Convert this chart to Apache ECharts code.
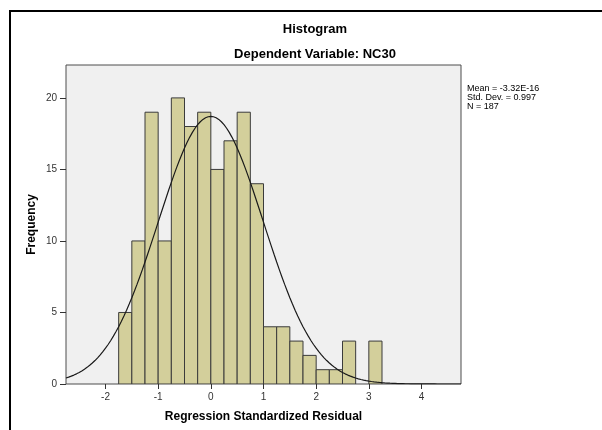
<!DOCTYPE html>
<html>
<head>
<meta charset="utf-8">
<script src="https://cdn.jsdelivr.net/npm/echarts@6/dist/echarts.min.js"></script>
<style>
  html, body { margin: 0; padding: 0; background: #ffffff; }
  #chart { width: 602px; height: 430px; }
</style>
</head>
<body>
<div id="chart"></div>
<script>
// Residual histogram: bin lower edges (width 0.25) and frequencies
const binWidth = 0.25;
const binStarts = [-1.75, -1.5, -1.25, -1.0, -0.75, -0.5, -0.25, 0.0, 0.25, 0.5,
                   0.75, 1.0, 1.25, 1.5, 1.75, 2.0, 2.25, 2.5, 2.75, 3.0];
const counts    = [5, 10, 19, 10, 20, 18, 19, 15, 17, 19,
                   14, 4, 4, 3, 2, 1, 1, 3, 0, 3];

// Summary statistics shown beside the plot
const statMean = -3.32e-16;
const statSd = 0.997;
const statN = 187;
const statLines = ['Mean = -3.32E-16', 'Std. Dev. = 0.997', 'N = 187'];

// Axis ticks
const xTicks = [-2, -1, 0, 1, 2, 3, 4];
const yTicks = [0, 5, 10, 15, 20];

// Normal curve scaled to the histogram (N * bin width * density)
const curve = [];
for (let i = 0; i <= 150; i++) {
  const x = -2.75 + i * 0.05;
  const z = (x - statMean) / statSd;
  const y = statN * binWidth * Math.exp(-0.5 * z * z) / (statSd * Math.sqrt(2 * Math.PI));
  curve.push([x, y]);
}

const bars = binStarts.map((s, i) => [s, s + binWidth, counts[i]]);

const font = '"Liberation Sans", Arial, sans-serif';
const chart = echarts.init(document.getElementById('chart'), null, { renderer: 'canvas' });

chart.setOption({
  animation: false,
  backgroundColor: '#ffffff',
  title: [
    { text: 'Histogram', left: 310, textAlign: 'center', top: 18,
      textStyle: { fontFamily: font, fontSize: 13, fontWeight: 'bold', color: '#000' } },
    { text: 'Dependent Variable: NC30', left: 310, textAlign: 'center', top: 43,
      textStyle: { fontFamily: font, fontSize: 13, fontWeight: 'bold', color: '#000' } }
  ],
  grid: {
    left: 66, top: 65, width: 395, height: 319,
    show: true, backgroundColor: '#f0f0f0', borderColor: '#4d4d4d', borderWidth: 1
  },
  xAxis: {
    type: 'value', min: -2.75, max: 4.75,
    name: 'Regression Standardized Residual', nameLocation: 'middle', nameGap: 27,
    nameTextStyle: { fontFamily: font, fontSize: 12, fontWeight: 'bold', color: '#000' },
    axisLine: { show: false, onZero: false },
    splitLine: { show: false },
    axisTick: { show: true, length: 5, customValues: xTicks, lineStyle: { color: '#333', width: 1 } },
    axisLabel: { customValues: xTicks, margin: 8, fontFamily: font, fontSize: 10, color: '#333' }
  },
  yAxis: {
    type: 'value', min: 0, max: 22.3,
    name: 'Frequency', nameLocation: 'middle', nameGap: 28, nameRotate: 90,
    nameMoveOverlap: false,
    nameTextStyle: { fontFamily: font, fontSize: 12, fontWeight: 'bold', color: '#000' },
    axisLine: { show: false, onZero: false },
    splitLine: { show: false },
    axisTick: { show: true, length: 6, customValues: yTicks, lineStyle: { color: '#333', width: 1 } },
    axisLabel: { customValues: yTicks, margin: 9, fontFamily: font, fontSize: 10, color: '#333' }
  },
  series: [
    {
      type: 'custom',
      data: bars,
      encode: { x: [0, 1], y: 2 },
      clip: true,
      renderItem: function (params, api) {
        const p0 = api.coord([api.value(0), 0]);
        const p1 = api.coord([api.value(1), api.value(2)]);
        if (api.value(2) <= 0) return null;
        return {
          type: 'rect',
          shape: { x: p0[0], y: p1[1], width: p1[0] - p0[0], height: p0[1] - p1[1] },
          style: { fill: '#d3cf9b', stroke: '#3b3b3b', lineWidth: 1 }
        };
      },
      z: 2
    },
    {
      type: 'line',
      data: curve,
      showSymbol: false,
      smooth: false,
      lineStyle: { color: '#1a1a1a', width: 1.2 },
      z: 3
    }
  ],
  graphic: [
    { type: 'rect', shape: { x: 10, y: 11, width: 700, height: 500 },
      style: { fill: 'none', stroke: '#000', lineWidth: 2 }, silent: true },
    { type: 'text', left: 467, top: 84,
      style: { text: statLines.join('\n'), fontFamily: font, fontSize: 9, lineHeight: 9, fill: '#000' } }
  ]
});
</script>
</body>
</html>
